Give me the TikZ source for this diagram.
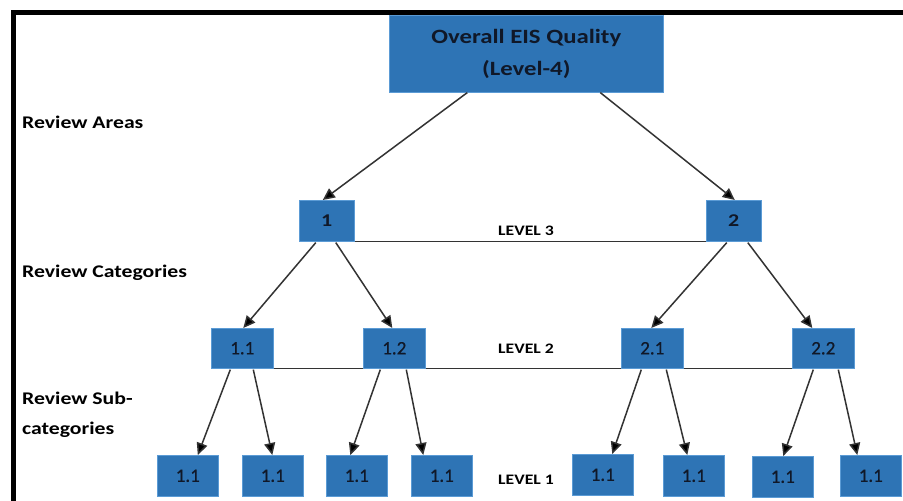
\documentclass[tikz,border=0pt]{standalone}
\usepackage{fontspec}
\setmainfont{Carlito}[FakeStretch=1.22]
\newfontfamily\numfont{Carlito}[FakeBold=0.6]
\usetikzlibrary{arrows.meta}
\definecolor{boxblue}{HTML}{2E74B5}
\definecolor{boxedge}{HTML}{5B9BD5}
\definecolor{inktext}{HTML}{101828}
\definecolor{linegray}{HTML}{333333}
\begin{document}
\begin{tikzpicture}[x=1pt,y=-1pt,
  box/.style={draw=boxedge, line width=0.6pt, fill=boxblue, inner sep=0pt, anchor=north west, text=inktext},
  topbox/.style={box, minimum width=274pt, minimum height=77pt, align=center, font=\fontsize{20.3}{32}\selectfont\bfseries},
  areabox/.style={box, minimum width=55pt, minimum height=41pt, font=\fontsize{18}{20}\selectfont\bfseries},
  catbox/.style={box, minimum width=62pt, minimum height=40pt, font=\numfont\fontsize{19}{21}\selectfont},
  subbox/.style={box, minimum width=61pt, minimum height=41pt, font=\numfont\fontsize{19}{21}\selectfont},
  sidelabel/.style={anchor=west, inner sep=0pt, text=black, align=left, font=\fontsize{17.8}{30}\selectfont\bfseries},
  levellabel/.style={anchor=center, inner sep=0pt, text=black, font=\fontsize{14.5}{16}\selectfont\bfseries},
  conn/.style={draw=linegray, line width=1.5pt, -{Triangle[length=12pt,width=11pt,fill=black]}},
  levelline/.style={draw=linegray, line width=1.5pt},
  frame/.style={draw=black, line width=5pt}
]
\useasboundingbox (0,0) rectangle (903,501);
\fill[white] (0,0) rectangle (903,501);
% frame
\coordinate (fA) at (13.5,501);
\coordinate (fB) at (13.5,12.5);
\coordinate (fC) at (903,12.5);
\draw[frame] (fA) -- (fB) -- (fC);

% top
\node[topbox] (top) at (389,15) {Overall EIS Quality\\(Level-4)};

% level 3
\node[areabox] (a1) at (299,200) {1};
\node[areabox] (a2) at (706,200) {2};

% level 2
\node[catbox] (c11) at (211,328) {1.1};
\node[catbox] (c12) at (363,328) {1.2};
\node[catbox] (c21) at (621,328) {2.1};
\node[catbox] (c22) at (792,328) {2.2};

% level 1
\node[subbox] (s1) at (157,455) {1.1};
\node[subbox] (s2) at (242,455) {1.1};
\node[subbox] (s3) at (326,455) {1.1};
\node[subbox] (s4) at (411,455) {1.1};
\node[subbox] (s5) at (572,454) {1.1};
\node[subbox] (s6) at (663,455) {1.1};
\node[subbox] (s7) at (752,456) {1.1};
\node[subbox] (s8) at (840,455) {1.1};

% level lines
\draw[levelline] (a1.south east) -- (a2.south west);
\draw[levelline] (c11.south east) -- (c12.south west);
\draw[levelline] (c12.south east) -- (c21.south west);
\draw[levelline] (c21.south east) -- (c22.south west);

% labels
\node[sidelabel] (lra) at (22,122) {Review Areas};
\node[sidelabel] (lrc) at (22,273) {Review Categories};
\node[sidelabel] (lrs) at (22,415) {Review Sub-\\categories};
\node[levellabel] (lv3) at (526,231) {LEVEL 3};
\node[levellabel] (lv2) at (526,349) {LEVEL 2};
\node[levellabel] (lv1) at (526,480) {LEVEL 1};

% arrows top -> areas
\draw[conn] ([xshift=-59pt]top.south) -- ([xshift=-4pt]a1.north);
\draw[conn] ([xshift=74pt]top.south) -- ([xshift=1pt]a2.north);
% areas -> categories
\draw[conn] ([xshift=-11pt,yshift=-1pt]a1.south) -- ([xshift=1pt]c11.north);
\draw[conn] ([xshift=9pt,yshift=-1pt]a1.south) -- ([xshift=-2pt]c12.north);
\draw[conn] ([xshift=-7pt,yshift=-1pt]a2.south) -- ([xshift=-1pt]c21.north);
\draw[conn] ([xshift=14pt,yshift=-1pt]a2.south) -- ([xshift=-11pt]c22.north);
% categories -> sub
\draw[conn] ([xshift=-12pt,yshift=-1pt]c11.south) -- ([xshift=10pt]s1.north);
\draw[conn] ([xshift=11pt,yshift=-1pt]c11.south) -- ([xshift=-0.5pt]s2.north);
\draw[conn] ([xshift=-14pt,yshift=-1pt]c12.south) -- ([xshift=-6.5pt]s3.north);
\draw[conn] ([xshift=12pt,yshift=-1pt]c12.south) -- ([xshift=-18.5pt]s4.north);
\draw[conn] ([xshift=-11pt,yshift=-1pt]c21.south) -- ([xshift=9.5pt]s5.north);
\draw[conn] ([xshift=14pt,yshift=-1pt]c21.south) -- ([xshift=-6.5pt]s6.north);
\draw[conn] ([xshift=-10pt,yshift=-1pt]c22.south) -- ([xshift=0.5pt]s7.north);
\draw[conn] ([xshift=15pt,yshift=-1pt]c22.south) -- ([xshift=-13.5pt]s8.north);
\end{tikzpicture}
\end{document}
